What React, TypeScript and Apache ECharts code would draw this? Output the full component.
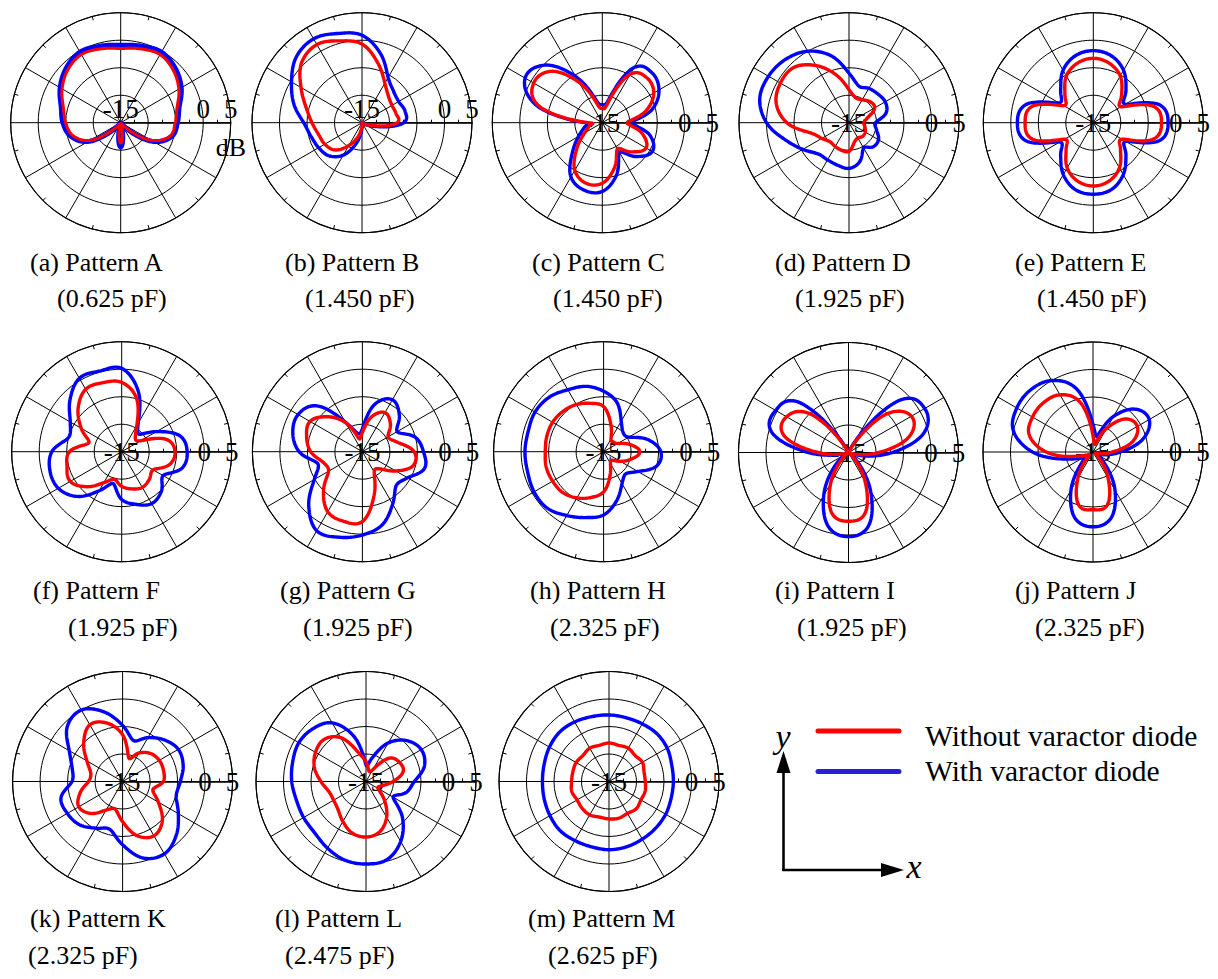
import React, { useEffect, useRef } from 'react';
import * as echarts from 'echarts';

// ---------- data ----------
const ANGLES = [0, 15, 30, 45, 60, 75, 90, 105, 120, 135, 150, 165, 180, 195, 210, 225, 240, 255, 270, 285, 300, 315, 330, 345];
const RADIUS_TICK_LABELS = [-15, 0, 5];
const PATTERN_LETTERS = ['A', 'B', 'C', 'D', 'E', 'F', 'G', 'H', 'I', 'J', 'K', 'L', 'M'];
const CAPACITANCES = ['0.625', '1.450', '1.450', '1.925', '1.450', '1.925', '1.925', '2.325', '1.925', '2.325', '2.325', '2.475', '2.625'];
const LEGEND_LABELS = ['Without varactor diode', 'With varactor diode'];

// values in dB at ANGLES (red = without varactor diode, blue = with)
const A_WITHOUT = [-5.1, -4.4, -2.8, -1.5, -0.7, -1.1, -1.5, -1.1, -0.7, -1.4, -2.7, -4.2, -5.0, -6.0, -8.6, -13.8, -14.8, -14.3, -11.3, -14.3, -14.8, -13.8, -8.6, -5.7];
const A_WITH = [-4.7, -4.0, -2.3, -1.0, -0.2, -0.6, -0.9, -0.6, -0.2, -1.0, -2.3, -3.8, -4.5, -5.6, -8.2, -13.5, -14.8, -14.2, -10.6, -14.2, -14.8, -13.5, -8.2, -5.4];
const B_WITHOUT = [-8.6, -8.6, -8.7, -8.2, -6.7, -3.8, -0.7, 0.4, 1.4, 0.5, -2.2, -4.5, -5.9, -6.8, -7.2, -8.0, -10.2, -12.5, -14.5, -15, -15, -15, -14.5, -13.0];
const B_WITH = [-7.4, -6.9, -7.3, -6.9, -5.5, -2.0, 0.9, 1.8, 2.6, 1.9, -0.2, -2.2, -4.4, -5.4, -5.9, -6.5, -8.2, -11.2, -14.0, -15, -15, -15, -14.5, -12.3];
const C_WITHOUT = [-10.5, -6.8, -4.2, -3.5, -4.8, -11.5, -12.4, -11.5, -6.5, -1.8, -0.6, -3.0, -12.5, -12.5, -11.3, -8.5, -5.0, -3.6, -4.0, -6.5, -9.5, -7.5, -5.8, -7.5];
const C_WITH = [-9.7, -5.6, -3.1, -2.2, -3.4, -10.8, -11.7, -10.8, -5.3, -0.2, 1.2, -2.5, -12.0, -11.6, -10.0, -7.3, -3.6, -2.3, -2.5, -5.1, -8.8, -6.3, -4.5, -6.0];
const D_WITHOUT = [-12.3, -11.5, -9.6, -9.6, -10.2, -10.3, -9.0, -6.0, -3.0, -0.8, -0.6, -1.3, -3.7, -7.8, -9.3, -10.1, -10.0, -9.8, -9.8, -11.3, -11.8, -11.5, -11.6, -12.0];
const D_WITH = [-10.2, -8.0, -7.4, -7.6, -7.8, -8.1, -6.0, -2.4, 0.0, 1.3, 1.9, 1.8, 0.0, -3.0, -5.3, -7.0, -7.2, -7.0, -6.7, -7.6, -9.7, -8.8, -8.8, -9.8];
const E_WITHOUT = [-2.6, -3.6, -9.2, -7.7, -5.2, -3.8, -3.3, -3.8, -5.2, -7.7, -8.8, -3.5, -2.6, -3.5, -9.0, -8.0, -5.5, -4.0, -3.5, -4.0, -5.5, -8.0, -9.0, -3.6];
const E_WITH = [-1.4, -2.5, -8.3, -6.6, -4.0, -2.4, -1.9, -2.4, -4.0, -6.6, -7.8, -2.3, -1.2, -2.3, -8.0, -6.6, -4.1, -2.4, -2.0, -2.4, -4.1, -6.6, -8.2, -2.5];
const F_WITHOUT = [-5.3, -6.5, -11.0, -11.5, -9.5, -4.8, -2.4, -2.0, -1.9, -3.8, -6.5, -8.8, -5.5, -4.7, -4.2, -6.0, -8.5, -9.8, -8.7, -8.0, -7.5, -7.9, -8.4, -6.0];
const F_WITH = [-3.1, -4.0, -7.7, -10.5, -9.0, -3.5, 0.15, 0.2, 0.4, -1.7, -4.2, -5.0, -2.3, -1.5, -1.7, -3.5, -6.8, -9.0, -6.3, -5.1, -4.1, -4.8, -6.3, -3.6];
const G_WITHOUT = [-5.6, -8.4, -9.6, -7.8, -6.8, -8.4, -11.5, -12.5, -8.9, -6.0, -4.0, -4.5, -5.6, -7.6, -7.9, -5.0, -2.4, -1.9, -2.3, -6.8, -10.7, -10.6, -8.0, -5.4];
const G_WITH = [-3.9, -5.0, -7.7, -5.5, -4.1, -6.0, -10.8, -11.5, -8.8, -3.2, -1.5, -1.9, -3.5, -6.6, -4.9, -1.2, 1.6, 1.1, 0.15, -1.2, -4.0, -6.3, -5.5, -3.3];
const H_WITHOUT = [-8.4, -10.0, -12.0, -12.5, -12.3, -9.9, -6.8, -5.9, -5.1, -4.6, -4.3, -4.3, -4.4, -4.2, -4.3, -4.5, -5.3, -6.4, -7.7, -10.5, -12.5, -12.8, -11.5, -9.8];
const H_WITH = [-4.6, -6.6, -9.7, -10.0, -8.6, -5.7, -4.0, -2.7, -2.0, -1.0, -0.6, -0.8, -0.7, -0.7, -0.4, -0.5, -1.6, -2.6, -3.5, -5.8, -8.3, -9.3, -7.8, -5.0];
const I_WITHOUT = [-9.5, -3.5, -1.8, -5.0, -14.0, -15, -15, -15, -14.5, -5.0, -2.0, -2.8, -9.5, -14.5, -15, -13.5, -8.5, -3.5, -2.5, -3.5, -9.0, -14.0, -15, -14.0];
const I_WITH = [-7.0, -0.7, 1.0, -1.4, -13.0, -15, -15, -15, -13.5, -2.0, 0.3, -0.5, -7.7, -14.0, -14.5, -11.4, -6.0, -1.0, 0.3, -1.1, -7.0, -13.0, -15, -13.0];
const J_WITHOUT = [-11.5, -7.5, -5.7, -6.5, -10.0, -13.5, -12.0, -5.5, -3.0, -2.3, -2.3, -3.0, -6.5, -12.0, -14.0, -13.5, -9.5, -5.0, -4.5, -5.0, -9.5, -13.5, -14.5, -14.0];
const J_WITH = [-10.0, -5.5, -3.2, -4.0, -7.5, -12.0, -10.0, -3.0, 0.0, 1.0, 1.0, 0.0, -4.0, -10.0, -13.0, -12.0, -7.0, -2.5, -1.4, -2.5, -7.0, -12.0, -14.0, -13.0];
const K_WITHOUT = [-7.6, -7.3, -7.3, -7.8, -9.0, -10.6, -6.5, -4.0, -3.1, -5.0, -7.5, -9.0, -8.8, -7.0, -5.8, -6.8, -9.0, -9.8, -7.7, -4.8, -3.6, -4.8, -7.5, -9.3];
const K_WITH = [-4.5, -3.6, -3.3, -4.3, -5.8, -7.3, -4.8, -1.9, 0.0, -0.8, -3.8, -5.5, -5.8, -3.4, -3.4, -3.9, -5.2, -6.0, -3.5, -0.6, 0.2, -1.2, -3.3, -4.9];
const L_WITHOUT = [-10.1, -8.0, -8.0, -9.0, -12.5, -13.0, -11.4, -9.5, -5.8, -4.2, -4.4, -5.3, -6.8, -8.0, -8.2, -7.8, -6.6, -5.3, -4.9, -5.5, -7.5, -10.3, -12.5, -12.0];
const L_WITH = [-6.2, -4.0, -3.4, -4.5, -6.9, -10.5, -12.0, -6.5, -2.7, -1.4, -0.9, -1.2, -1.5, -1.9, -1.9, -1.8, -1.0, -0.2, 0.0, -0.3, -2.4, -5.6, -9.3, -7.4];
const M_WITHOUT = [-8.4, -8.4, -8.0, -8.3, -8.0, -8.2, -8.0, -8.2, -8.0, -8.3, -8.1, -8.2, -8.2, -8.0, -8.3, -8.1, -8.0, -8.3, -8.2, -8.1, -8.3, -8.0, -8.3, -8.2];
const M_WITH = [-3.3, -3.2, -2.8, -2.7, -2.9, -3.0, -2.9, -2.8, -2.5, -2.3, -2.5, -2.8, -2.9, -2.8, -2.6, -2.4, -2.6, -2.7, -2.6, -2.7, -2.9, -3.0, -3.1, -3.3];

const WITHOUT_SERIES = [A_WITHOUT, B_WITHOUT, C_WITHOUT, D_WITHOUT, E_WITHOUT, F_WITHOUT, G_WITHOUT, H_WITHOUT, I_WITHOUT, J_WITHOUT, K_WITHOUT, L_WITHOUT, M_WITHOUT];
const WITH_SERIES = [A_WITH, B_WITH, C_WITH, D_WITH, E_WITH, F_WITH, G_WITH, H_WITH, I_WITH, J_WITH, K_WITH, L_WITH, M_WITH];

// ---------- layout ----------
const W = 1218;
const H = 979;
const R = 110;
const R_MIN = -15;
const R_MAX = 5;
const CENTERS = [
  [120.7, 122.7], [362, 122.7], [602.3, 122.7], [849, 122.7], [1093.3, 122.7],
  [121.7, 451.7], [362.4, 451.7], [603.6, 451.7], [848.5, 452.5], [1093, 452],
  [122.6, 781.5], [366, 781.5], [609, 781.5],
];
// [x line1, x line2, y line1, y line2]
const CAPTION_POS = [
  [30, 57, 262, 298], [285, 305, 262, 298], [532, 553, 262, 298], [775, 795, 262, 298], [1015, 1037, 262, 298],
  [33, 68, 590, 627], [280, 303, 590, 627], [530, 550, 590, 627], [775, 797, 590, 627], [1015, 1035, 590, 627],
  [30, 28, 918, 955], [275, 285, 918, 955], [528, 548, 918, 955],
];
const FONT = '"Liberation Serif", "Times New Roman", serif';
const RED = '#ff0000';
const BLUE = '#0000ff';
const SUBSTEPS = 15;

function loop(values: number[]) {
  const pts = values.map((v, k) => [v, ANGLES[k]]);
  pts.push([values[0], 360]);
  return pts;
}

// smooth closed curve drawn through the read samples (periodic Catmull-Rom in angle)
function makeRenderItem(values: number[], color: string, width: number) {
  return (params: any, api: any) => {
    if (params.dataIndex !== 0) return null;
    const n = values.length;
    const pts: number[][] = [];
    for (let k = 0; k < n; k++) {
      const p0 = values[(k - 1 + n) % n];
      const p1 = values[k];
      const p2 = values[(k + 1) % n];
      const p3 = values[(k + 2) % n];
      const a0 = ANGLES[k];
      const a1 = k + 1 < n ? ANGLES[k + 1] : 360;
      for (let s = 0; s < SUBSTEPS; s++) {
        const t = s / SUBSTEPS;
        const t2 = t * t;
        const t3 = t2 * t;
        let r = 0.5 * (2 * p1 + (-p0 + p2) * t + (2 * p0 - 5 * p1 + 4 * p2 - p3) * t2 + (-p0 + 3 * p1 - 3 * p2 + p3) * t3);
        r = Math.max(R_MIN, Math.min(R_MAX, r));
        const c = api.coord([r, a0 + (a1 - a0) * t]);
        pts.push([c[0], c[1]]);
      }
    }
    pts.push(pts[0]);
    return {
      type: 'polyline',
      silent: true,
      shape: { points: pts },
      style: { stroke: color, lineWidth: width, fill: 'none', lineJoin: 'round' },
    };
  };
}

function txt(text: string, x: number, y: number, size: number, align = 'left', italic = false) {
  return {
    type: 'text',
    x,
    y,
    silent: true,
    style: {
      text,
      fill: '#000',
      fontSize: size,
      fontFamily: FONT,
      fontStyle: italic ? 'italic' : 'normal',
      align,
      verticalAlign: 'middle',
      textAlign: align,
      textVerticalAlign: 'middle',
    },
  };
}

export default function App() {
  const ref = useRef<HTMLDivElement>(null);

  useEffect(() => {
    if (!ref.current) return;
    const chart = echarts.init(ref.current, null, { renderer: 'svg' });

    const polar = CENTERS.map((c) => ({ center: [c[0], c[1]], radius: R }));

    const angleAxis = CENTERS.map((_, i) => ({
      polarIndex: i,
      type: 'value',
      min: 0,
      max: 360,
      interval: 30,
      startAngle: 0,
      clockwise: false,
      axisLine: { show: true, lineStyle: { color: '#000', width: 1.1 } },
      axisTick: { show: false, inside: true },
      minorTick: { show: true, splitNumber: 2, length: 4, lineStyle: { color: '#000', width: 1 } },
      axisLabel: { show: false },
      splitLine: { show: true, lineStyle: { color: '#000', width: 1 } },
    }));

    const radiusAxis = CENTERS.map((_, i) => ({
      polarIndex: i,
      type: 'value',
      min: R_MIN,
      max: R_MAX,
      interval: 5,
      axisLine: { show: true, lineStyle: { color: '#000', width: 1.5 } },
      axisTick: { show: false },
      minorTick: { show: true, splitNumber: 2, length: 3, lineStyle: { color: '#000', width: 1 } },
      splitLine: { show: true, lineStyle: { color: '#000', width: 1 } },
      axisLabel: {
        show: true,
        margin: 0,
        align: 'center',
        verticalAlign: i < 2 ? 'bottom' : 'middle',
        color: '#000',
        fontSize: 27,
        fontFamily: FONT,
        formatter: (v: number) => (RADIUS_TICK_LABELS.indexOf(v) >= 0 ? String(v) : ''),
      },
    }));

    const series: any[] = [];
    CENTERS.forEach((_, i) => {
      series.push({
        type: 'custom',
        name: LEGEND_LABELS[1],
        coordinateSystem: 'polar',
        polarIndex: i,
        dimensions: ['radius', 'angle'],
        encode: { radius: 0, angle: 1 },
        data: loop(WITH_SERIES[i]),
        silent: true,
        z: 3,
        renderItem: makeRenderItem(WITH_SERIES[i], BLUE, i === 0 ? 5 : 3.4),
      });
      series.push({
        type: 'custom',
        name: LEGEND_LABELS[0],
        coordinateSystem: 'polar',
        polarIndex: i,
        dimensions: ['radius', 'angle'],
        encode: { radius: 0, angle: 1 },
        data: loop(WITHOUT_SERIES[i]),
        silent: true,
        z: 4,
        renderItem: makeRenderItem(WITHOUT_SERIES[i], RED, i === 0 ? 3 : 3.4),
      });
    });

    const graphic: any[] = [];
    PATTERN_LETTERS.forEach((L, i) => {
      const p = CAPTION_POS[i];
      graphic.push(txt(`(${L.toLowerCase()}) Pattern ${L}`, p[0], p[2], 26));
      graphic.push(txt(`(${CAPACITANCES[i]} pF)`, p[1], p[3], 26));
    });
    // dB unit label in plot A
    graphic.push(txt('dB', 231, 147, 26, 'center'));

    // legend
    graphic.push({ type: 'line', silent: true, shape: { x1: 818, y1: 731, x2: 899, y2: 731 }, style: { stroke: RED, lineWidth: 5, lineCap: 'round' } });
    graphic.push({ type: 'line', silent: true, shape: { x1: 818, y1: 771.5, x2: 899, y2: 771.5 }, style: { stroke: '#2a1fd6', lineWidth: 5, lineCap: 'round' } });
    graphic.push(txt(LEGEND_LABELS[0], 925, 736, 29.5));
    graphic.push(txt(LEGEND_LABELS[1], 925, 771, 29.5));

    // x-y axes indicator
    graphic.push({ type: 'line', silent: true, shape: { x1: 783.5, y1: 871, x2: 783.5, y2: 768 }, style: { stroke: '#000', lineWidth: 2.6 } });
    graphic.push({ type: 'line', silent: true, shape: { x1: 782.2, y1: 870, x2: 884, y2: 870 }, style: { stroke: '#000', lineWidth: 2.6 } });
    graphic.push({ type: 'polygon', silent: true, shape: { points: [[783.5, 751], [776.5, 773], [790.5, 773]] }, style: { fill: '#000' } });
    graphic.push({ type: 'polygon', silent: true, shape: { points: [[904, 870], [881, 863], [881, 877]] }, style: { fill: '#000' } });
    graphic.push(txt('y', 783, 736, 34, 'center', true));
    graphic.push(txt('x', 914, 866, 34, 'center', true));

    chart.setOption({
      animation: false,
      backgroundColor: '#ffffff',
      textStyle: { fontFamily: FONT },
      polar,
      angleAxis,
      radiusAxis,
      series,
      graphic,
    });

    return () => chart.dispose();
  }, []);

  return <div ref={ref} style={{ position: 'absolute', left: 0, top: 0, width: W, height: H }} />;
}
